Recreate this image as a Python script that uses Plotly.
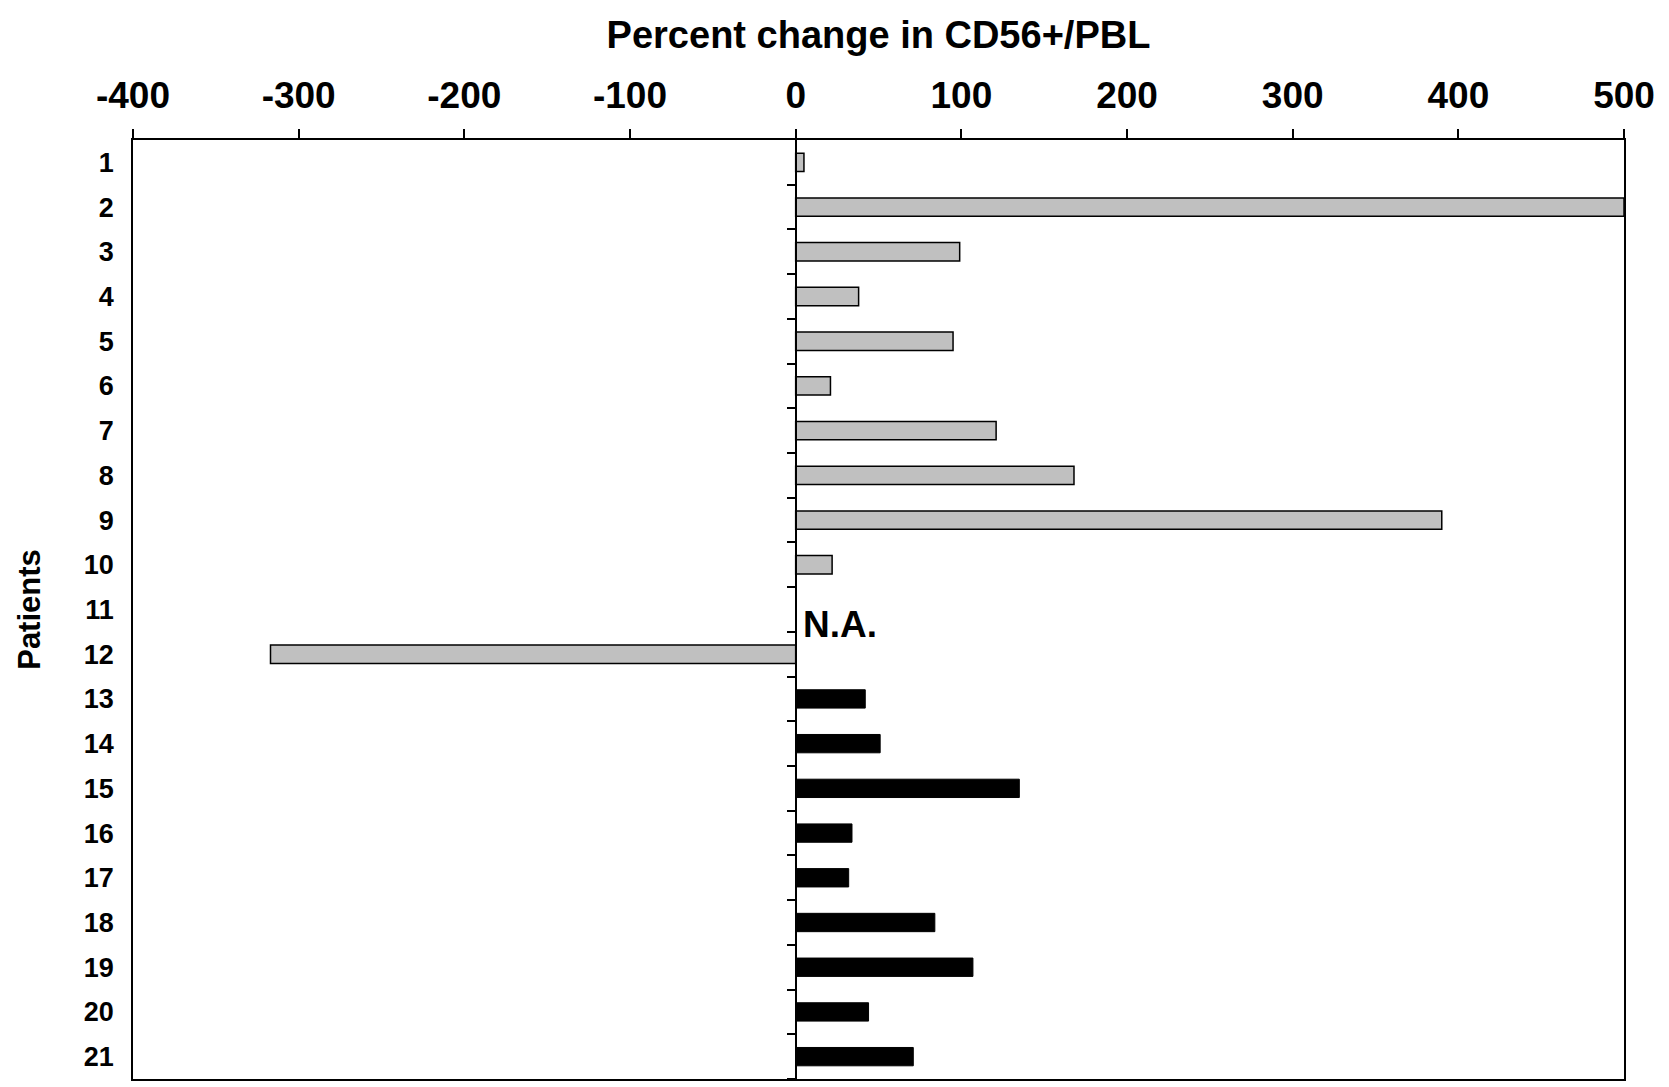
import plotly.graph_objects as go

# Percent change in CD56+ cells among peripheral blood lymphocytes, per patient
patients = list(range(1, 22))
group_a_patients = list(range(1, 13))
group_a_change = [5, 500, 99, 38, 95, 21, 121, 168, 390, 22, None, -317]
group_b_patients = list(range(13, 22))
group_b_change = [42, 51, 135, 34, 32, 84, 107, 44, 71]
x_ticks = [-400, -300, -200, -100, 0, 100, 200, 300, 400, 500]
x_tick_text = ["-400", "-300", "-200", "-100", "0", "100", "200", "300", "400", "500"]
x_range = [-400, 500]
na_patient = 11

FONT = "Liberation Sans, Arial, sans-serif"

fig = go.Figure()

fig.add_trace(go.Bar(
    x=group_a_change, y=group_a_patients, orientation="h", width=0.41,
    marker=dict(color="#C0C0C0", line=dict(color="black", width=1.5)),
    showlegend=False, hoverinfo="x+y",
))
fig.add_trace(go.Bar(
    x=group_b_change, y=group_b_patients, orientation="h", width=0.41,
    marker=dict(color="black", line=dict(color="black", width=1)),
    showlegend=False, hoverinfo="x+y",
))
# carrier trace for the vertical axis drawn through zero
fig.add_trace(go.Scatter(
    x=[0], y=[1], yaxis="y2", mode="markers", marker=dict(opacity=0),
    showlegend=False, hoverinfo="skip",
))

zero_pos = (0 - x_range[0]) / (x_range[1] - x_range[0])
y_range = [21.5, 0.5]

fig.update_layout(
    width=1669, height=1087,
    margin=dict(l=133, r=45, t=140, b=6),
    paper_bgcolor="white", plot_bgcolor="white",
    font=dict(family=FONT, color="black"),
    barmode="overlay",
    xaxis=dict(
        range=x_range, side="top", tickvals=x_ticks, ticktext=x_tick_text,
        ticks="outside", ticklen=9, tickwidth=1.5, tickcolor="black",
        showline=True, linecolor="black", linewidth=1.5, mirror=True,
        showgrid=False, zeroline=False,
        tickfont=dict(size=37, weight="bold", family=FONT),
        ticklabelstandoff=6,
        title=dict(text="Percent change in CD56+/PBL",
                   font=dict(size=38, weight="bold", family=FONT), standoff=15),
    ),
    yaxis=dict(
        range=y_range, tickvals=patients, ticktext=[str(p) for p in patients],
        ticks="", showline=True, linecolor="black", linewidth=1.5, mirror=True,
        showgrid=False, zeroline=False,
        tickfont=dict(size=27, weight="bold", family=FONT),
        ticklabelstandoff=12,
        title=dict(text="Patients", font=dict(size=31, weight="bold", family=FONT),
                   standoff=34),
    ),
    yaxis2=dict(
        range=y_range, overlaying="y", anchor="free", position=zero_pos, side="left",
        tickvals=[p + 0.5 for p in patients], ticks="outside", ticklen=8,
        tickwidth=1.5, tickcolor="black", showticklabels=False,
        showline=True, linecolor="black", linewidth=1.5,
        showgrid=False, zeroline=False,
    ),
    annotations=[dict(
        x=3.5, y=na_patient + 0.33, xref="x", yref="y",
        text="N.A.", showarrow=False, xanchor="left", yanchor="middle",
        font=dict(size=37, weight="bold", family=FONT),
    )],
)

fig.write_html("out.html")
